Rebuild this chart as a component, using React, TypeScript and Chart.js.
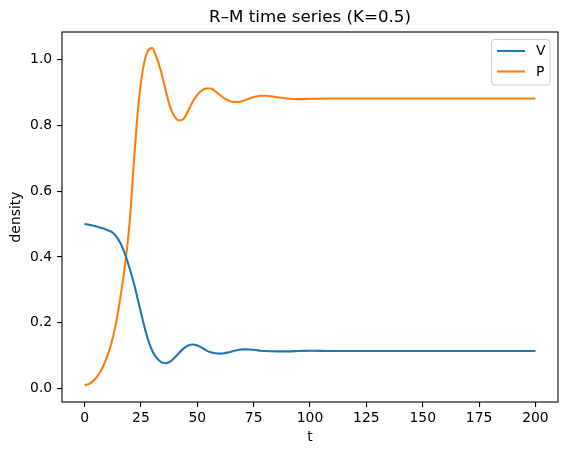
import React, { useEffect, useRef } from "react";
import { Chart, registerables } from "chart.js";

Chart.register(...registerables);

const TITLE = "R–M time series (K=0.5)";
const X_LABEL = "t";
const Y_LABEL = "density";
const SERIES_NAMES = ["V", "P"];
const X_TICKS = [0, 25, 50, 75, 100, 125, 150, 175, 200];
const Y_TICKS = [0.0, 0.2, 0.4, 0.6, 0.8, 1.0];

const T = [
  0, 2, 4, 6, 8, 10, 12, 14, 16, 18, 20, 22, 24, 26, 28, 30, 32, 34, 36, 38, 40,
  42, 44, 46, 48, 50, 52, 54, 56, 58, 60, 62, 64, 66, 68, 70, 72, 74, 76, 78, 80,
  85, 90, 95, 100, 110, 120, 140, 160, 180, 200,
];

const V = [
  0.5, 0.498, 0.495, 0.491, 0.487, 0.482, 0.476, 0.463, 0.441, 0.408, 0.365,
  0.317, 0.26, 0.203, 0.152, 0.115, 0.093, 0.08, 0.077, 0.082, 0.094, 0.109,
  0.122, 0.131, 0.134, 0.131, 0.124, 0.116, 0.11, 0.107, 0.106, 0.107, 0.11,
  0.114, 0.117, 0.119, 0.119, 0.118, 0.117, 0.115, 0.114, 0.113, 0.113, 0.114,
  0.115, 0.114, 0.114, 0.114, 0.114, 0.114, 0.114,
];

const P = [
  0.01, 0.014, 0.024, 0.04, 0.064, 0.097, 0.14, 0.2, 0.282, 0.378, 0.505,
  0.7, 0.87, 0.975, 1.025, 1.035, 1.005, 0.962, 0.906, 0.855, 0.826, 0.815, 0.82,
  0.845, 0.872, 0.893, 0.906, 0.912, 0.912, 0.904, 0.893, 0.882, 0.875, 0.871,
  0.871, 0.874, 0.879, 0.884, 0.888, 0.89, 0.89, 0.886, 0.882, 0.88, 0.881,
  0.882, 0.882, 0.882, 0.882, 0.882, 0.882,
];

const COLORS = ["#1f77b4", "#ff7f0e"];
const FONT = "'DejaVu Sans', sans-serif";

export default function App() {
  const ref = useRef<HTMLCanvasElement | null>(null);

  useEffect(() => {
    const canvas = ref.current;
    if (!canvas) return;

    const decor = {
      id: "decor",
      afterDatasetsDraw(chart: any) {
        const { ctx, chartArea: a } = chart;
        ctx.save();
        ctx.strokeStyle = "#000";
        ctx.lineWidth = 1.1;
        ctx.strokeRect(a.left, a.top, a.right - a.left, a.bottom - a.top);
        ctx.fillStyle = "#000";
        ctx.font = `16.7px ${FONT}`;
        ctx.textAlign = "center";
        ctx.textBaseline = "middle";
        ctx.fillText(TITLE, (a.left + a.right) / 2, 18);
        const bx = 491.5, by = 39.5, bw = 58.5, bh = 45.5, r = 3;
        ctx.beginPath();
        ctx.moveTo(bx + r, by);
        ctx.lineTo(bx + bw - r, by);
        ctx.quadraticCurveTo(bx + bw, by, bx + bw, by + r);
        ctx.lineTo(bx + bw, by + bh - r);
        ctx.quadraticCurveTo(bx + bw, by + bh, bx + bw - r, by + bh);
        ctx.lineTo(bx + r, by + bh);
        ctx.quadraticCurveTo(bx, by + bh, bx, by + bh - r);
        ctx.lineTo(bx, by + r);
        ctx.quadraticCurveTo(bx, by, bx + r, by);
        ctx.closePath();
        ctx.fillStyle = "rgba(255,255,255,0.8)";
        ctx.fill();
        ctx.strokeStyle = "#cccccc";
        ctx.lineWidth = 1;
        ctx.stroke();
        const rows = [51, 71.5];
        SERIES_NAMES.forEach((name, i) => {
          ctx.strokeStyle = COLORS[i];
          ctx.lineWidth = 2.1;
          ctx.beginPath();
          ctx.moveTo(497, rows[i]);
          ctx.lineTo(525, rows[i]);
          ctx.stroke();
          ctx.fillStyle = "#000";
          ctx.font = `13.9px ${FONT}`;
          ctx.textAlign = "left";
          ctx.textBaseline = "middle";
          ctx.fillText(name, 536, rows[i] + 0.5);
        });
        ctx.restore();
      },
    };

    const chart = new Chart(canvas, {
      type: "line",
      data: {
        datasets: [
          {
            label: SERIES_NAMES[0],
            data: T.map((t, i) => ({ x: t, y: V[i] })),
            borderColor: COLORS[0],
            backgroundColor: COLORS[0],
            borderWidth: 2.1,
            pointRadius: 0,
            cubicInterpolationMode: "monotone",
            fill: false,
          },
          {
            label: SERIES_NAMES[1],
            data: T.map((t, i) => ({ x: t, y: P[i] })),
            borderColor: COLORS[1],
            backgroundColor: COLORS[1],
            borderWidth: 2.1,
            pointRadius: 0,
            cubicInterpolationMode: "monotone",
            fill: false,
          },
        ],
      },
      options: {
        responsive: false,
        animation: false,
        devicePixelRatio: 1,
        layout: { padding: { left: 0, right: 9, top: 32, bottom: 0 } },
        plugins: {
          legend: { display: false },
          title: { display: false },
          tooltip: { enabled: false },
        },
        scales: {
          x: {
            type: "linear",
            position: "bottom",
            min: -10,
            max: 210,
            afterBuildTicks: (s: any) => {
              s.ticks = X_TICKS.map((v) => ({ value: v }));
            },
            afterFit: (s: any) => {
              s.height = 53;
            },
            border: { display: false },
            grid: {
              drawOnChartArea: false,
              drawTicks: true,
              tickLength: 4.9,
              color: "#000",
              lineWidth: 1.1,
            },
            ticks: {
              color: "#000",
              font: { family: FONT, size: 13.9 },
              padding: 3.5,
              maxRotation: 0,
              autoSkip: false,
              callback: (v: any) => String(v),
            },
            title: {
              display: true,
              text: X_LABEL,
              color: "#000",
              font: { family: FONT, size: 13.9 },
              padding: { top: 0, bottom: 9.7 },
            },
          },
          y: {
            type: "linear",
            min: -0.041,
            max: 1.084,
            afterBuildTicks: (s: any) => {
              s.ticks = Y_TICKS.map((v) => ({ value: v }));
            },
            afterFit: (s: any) => {
              s.width = 62;
            },
            border: { display: false },
            grid: {
              drawOnChartArea: false,
              drawTicks: true,
              tickLength: 4.9,
              color: "#000",
              lineWidth: 1.1,
            },
            ticks: {
              color: "#000",
              font: { family: FONT, size: 13.9 },
              padding: 4.9,
              autoSkip: false,
              callback: (v: any) => Number(v).toFixed(1),
            },
            title: {
              display: true,
              text: Y_LABEL,
              color: "#000",
              font: { family: FONT, size: 13.9 },
              padding: { top: 7.7, bottom: 0 },
            },
          },
        },
      },
      plugins: [decor],
    } as any);

    return () => chart.destroy();
  }, []);

  return (
    <div style={{ position: "fixed", left: 0, top: 0, width: 567, height: 455, background: "#fff" }}>
      <canvas ref={ref} width={567} height={455} style={{ display: "block" }} />
    </div>
  );
}
